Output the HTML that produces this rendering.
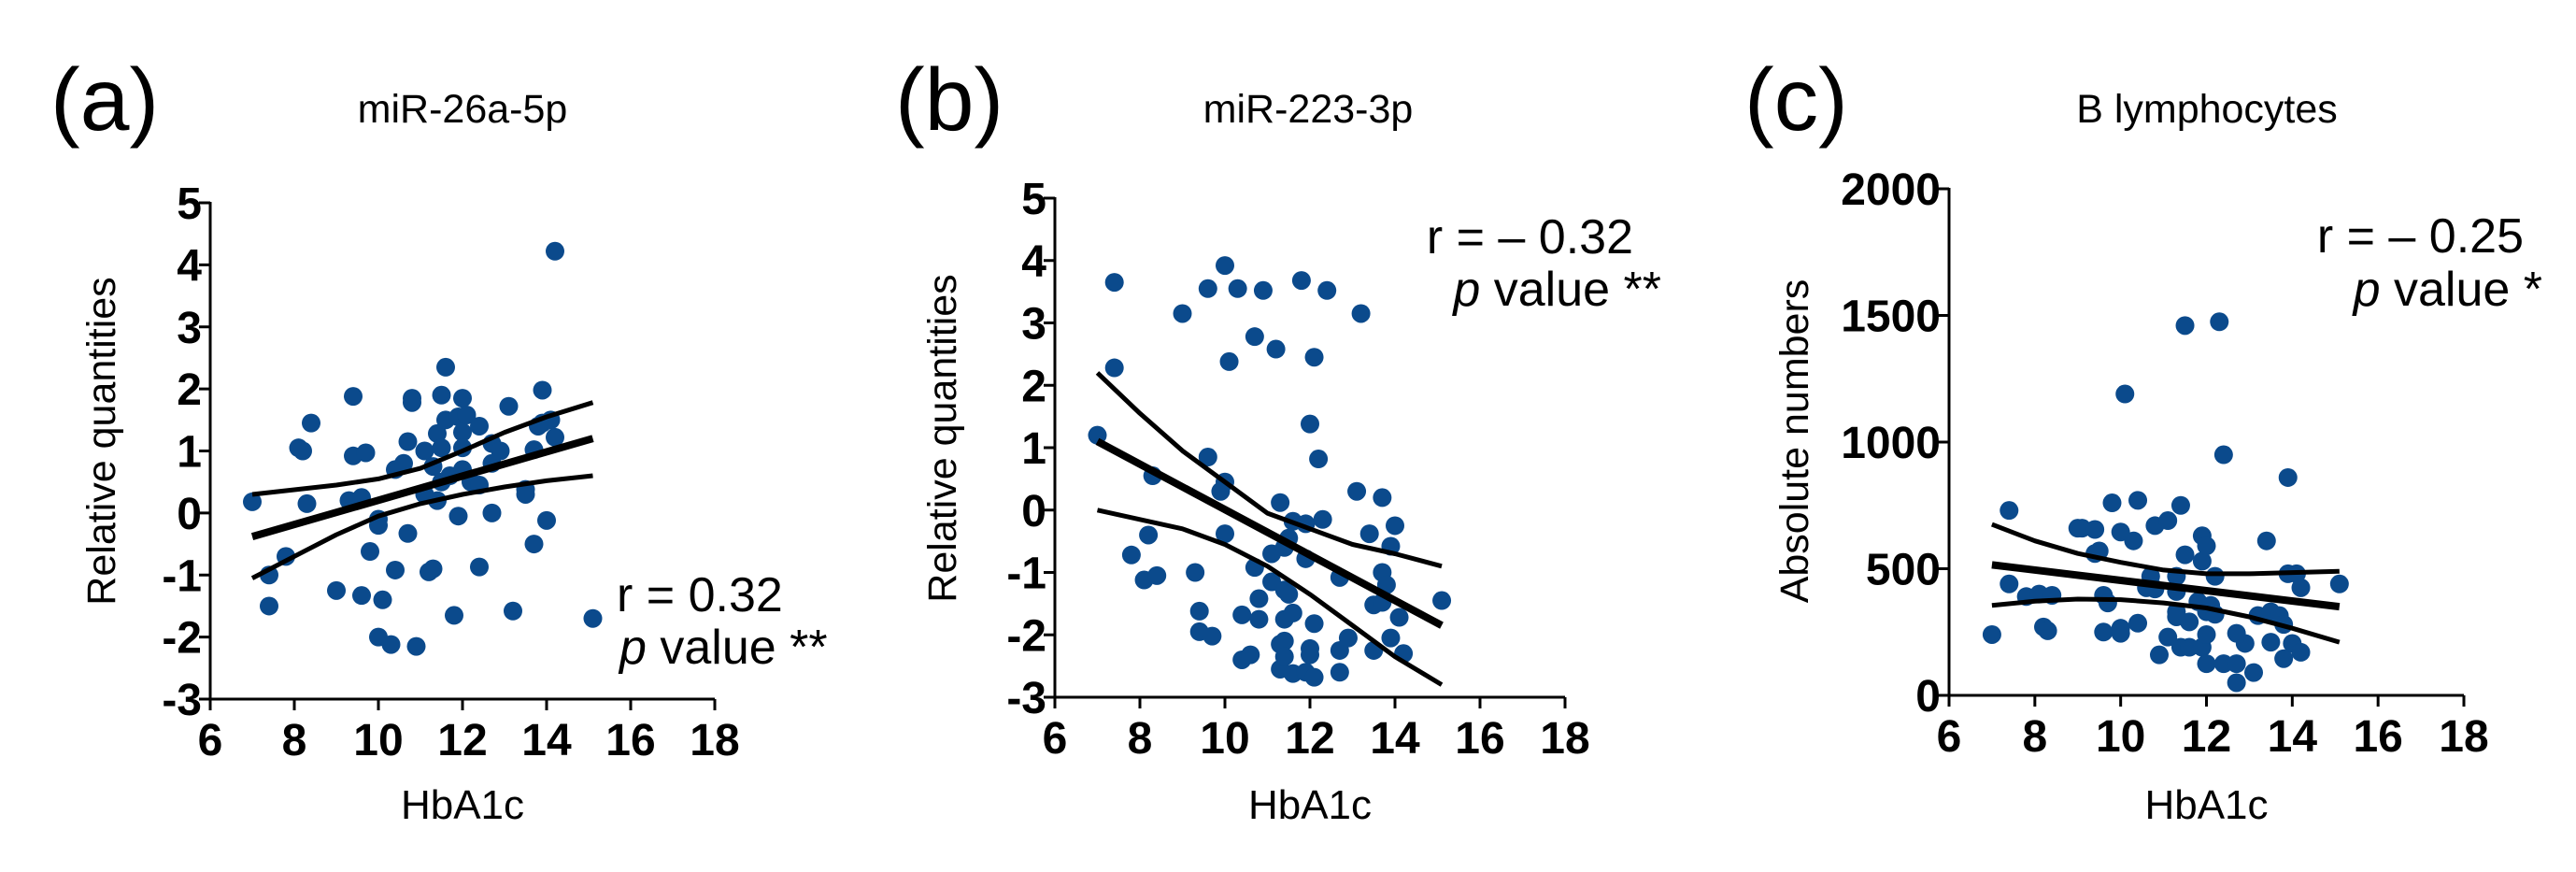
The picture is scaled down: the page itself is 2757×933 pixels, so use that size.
<!DOCTYPE html>
<html><head><meta charset="utf-8"><style>
body{margin:0;background:#fff;}
svg{display:block;font-family:"Liberation Sans",Arial,sans-serif;}
</style></head><body>
<svg id="fig" width="2757" height="933" viewBox="0 0 2757 933" xmlns="http://www.w3.org/2000/svg"></svg>
<script>
const NS="http://www.w3.org/2000/svg";
// ---- Panel a data ----
const aX=[7.0,7.4,7.4,7.8,8.1,8.2,8.3,8.4,9.0,9.3,9.4,9.4,9.6,9.6,9.7,9.8,10.0,10.0,10.0,10.1,10.3,10.4,10.4,10.6,10.7,10.7,10.8,10.8,10.9,11.1,11.1,11.2,11.3,11.3,11.4,11.4,11.5,11.5,11.5,11.6,11.6,11.7,11.8,11.9,11.9,12.0,12.0,12.0,12.0,12.1,12.2,12.4,12.4,12.4,12.7,12.7,12.7,12.9,13.1,13.2,13.5,13.5,13.7,13.7,13.8,13.9,13.9,14.0,14.1,14.2,14.2,15.1];
const aY=[0.18,-1.0,-1.5,-0.7,1.05,1.0,0.15,1.45,-1.25,0.2,1.88,0.92,0.25,-1.33,0.97,-0.62,-0.1,-0.2,-2.0,-1.4,-2.12,-0.92,0.7,0.8,1.15,-0.33,1.85,1.78,-2.15,1.0,0.3,-0.95,-0.9,0.75,1.28,0.2,1.9,1.05,0.5,2.35,1.5,0.6,-1.65,-0.05,1.55,1.85,1.3,1.05,0.7,1.58,0.5,1.4,0.45,-0.87,1.12,0.0,0.8,1.0,1.72,-1.58,0.38,0.3,1.02,-0.5,1.4,1.98,1.45,-0.12,1.5,1.22,4.22,-1.7];
const aFitX=[7,15.1];
const aFitY=[-0.38,1.2];
const aBandX=[7,9,10,11,12,13,14,15.1];
const aUpper=[0.3,0.45,0.55,0.72,1.0,1.3,1.55,1.78];
const aBandX2=[7,8,9,10,11,12,13,14,15.1];
const aLower=[-1.05,-0.7,-0.35,-0.05,0.15,0.3,0.42,0.52,0.6];
const aYTicks=[5,4,3,2,1,0,-1,-2,-3];
// ---- Panel b data ----
const bX=[7.0,7.4,7.4,7.8,8.1,8.2,8.3,8.4,9.0,9.3,9.4,9.4,9.6,9.6,9.7,9.9,10.0,10.0,10.0,10.1,10.3,10.4,10.4,10.6,10.7,10.7,10.8,10.8,10.9,11.1,11.1,11.2,11.3,11.3,11.3,11.4,11.4,11.4,11.4,11.4,11.5,11.5,11.6,11.6,11.6,11.8,11.9,11.9,11.9,12.0,12.0,12.0,12.1,12.1,12.1,12.2,12.3,12.4,12.7,12.7,12.7,12.9,13.1,13.2,13.4,13.5,13.5,13.7,13.7,13.7,13.8,13.9,13.9,14.0,14.1,14.2,15.1];
const bY=[1.2,3.65,2.28,-0.72,-1.12,-0.4,0.55,-1.05,3.15,-1.0,-1.62,-1.95,3.55,0.85,-2.02,0.3,3.92,0.45,-0.38,2.38,3.55,-1.68,-2.4,-2.32,2.78,-0.92,-1.42,-1.75,3.52,-1.15,-0.7,2.58,0.12,-2.55,-2.15,-0.6,-1.28,-1.75,-2.1,-2.35,-0.45,-1.35,-0.18,-2.62,-1.65,3.68,-0.22,-0.78,-2.6,1.38,-2.22,-2.32,2.45,-1.82,-2.68,0.82,-0.15,3.52,-1.08,-2.25,-2.6,-2.05,0.3,3.15,-0.38,-1.52,-2.25,0.2,-1.0,-1.48,-1.2,-0.58,-2.05,-0.25,-1.72,-2.3,-1.45];
const bFitX=[7,15.1];
const bFitY=[1.1,-1.85];
const bBandX=[7,8,9,10,11,12,13,14,15.1];
const bUpper=[2.2,1.55,0.95,0.45,-0.05,-0.3,-0.55,-0.7,-0.9];
const bLower=[0,-0.15,-0.3,-0.55,-0.9,-1.35,-1.85,-2.35,-2.8];
// ---- Panel c data ----
const cX=[7.0,7.4,7.4,7.8,8.1,8.2,8.3,8.4,9.0,9.1,9.4,9.4,9.5,9.6,9.6,9.7,9.8,10.0,10.0,10.0,10.1,10.3,10.4,10.4,10.6,10.7,10.8,10.8,10.9,11.1,11.1,11.3,11.3,11.3,11.3,11.4,11.4,11.5,11.5,11.6,11.6,11.8,11.9,11.9,11.9,12.0,12.0,12.0,12.0,12.1,12.2,12.2,12.3,12.4,12.4,12.7,12.7,12.7,12.9,13.1,13.2,13.4,13.5,13.5,13.7,13.8,13.8,13.9,13.9,14.0,14.1,14.2,14.2,15.1];
const cY=[240,730,440,390,400,270,255,395,660,660,655,560,570,250,395,365,760,645,265,245,1190,610,770,285,425,470,670,420,160,690,230,470,410,330,310,750,190,1460,555,190,290,370,630,530,190,590,330,240,125,355,320,470,1475,950,125,245,125,50,205,90,315,610,210,330,315,280,145,860,480,205,480,425,170,440];
const cFitX=[7,15.1];
const cFitY=[515,350];
const cBandX=[7,8,9,10,11,12,13,14,15.1];
const cUpper=[675,610,560,525,495,480,480,485,490];
const cLower=[355,372,380,378,365,345,310,265,210];
const cYTicks=[2000,1500,1000,500,0];
const xTicks=[6,8,10,12,14,16,18];

const svg=document.getElementById('fig');
function el(tag,attrs,parent,text){const e=document.createElementNS(NS,tag);for(const k in attrs)e.setAttribute(k,attrs[k]);if(text!==undefined)e.textContent=text;(parent||svg).appendChild(e);return e;}

function panel(o){
  const g=el('g',{});
  
  
  const sx=v=>o.x0+(v-6)/(18-6)*(o.x1-o.x0);
  const sy=v=>o.y0+(v-o.ymin)/(o.ymax-o.ymin)*(o.y1-o.y0);
  const ya=el('line',{x1:o.x0,y1:o.y1-1,x2:o.x0,y2:o.y0+1.5,stroke:'#000','stroke-width':3},g);
  
  
  const xa=el('line',{x1:o.x0-1.5,y1:o.y0,x2:o.x1,y2:o.y0,stroke:'#000','stroke-width':3},g);
  
  
  o.yticks.forEach(t=>{
    el('line',{x1:o.x0-12,x2:o.x0,y1:sy(t),y2:sy(t),stroke:'#000','stroke-width':3},g);
    const tx=el('text',{x:o.x0-9,y:sy(t)+17,'text-anchor':'end','font-size':48,'font-weight':'bold'},g,String(t));
    
    
  });
  xTicks.forEach(t=>{
    el('line',{x1:sx(t),x2:sx(t),y1:o.y0,y2:o.y0+12,stroke:'#000','stroke-width':3},g);
    const tx=el('text',{x:sx(t),y:o.y0+60,'text-anchor':'middle','font-size':48,'font-weight':'bold'},g,String(t));
    
    
  });
  o.px.forEach((v,i)=>{
    const c=el('circle',{cx:sx(v),cy:sy(o.py[i]),r:10,fill:'#0b4a8c'},g);
    
    
  });
  const path=(xs,ys)=>xs.map((v,i)=>(i?'L':'M')+sx(v).toFixed(1)+' '+sy(ys[i]).toFixed(1)).join(' ');
  const u=el('path',{d:path(o.ubx,o.up),fill:'none',stroke:'#000','stroke-width':5,'stroke-linejoin':'round'},g);
  
  
  const l=el('path',{d:path(o.lbx,o.lo),fill:'none',stroke:'#000','stroke-width':5,'stroke-linejoin':'round'},g);
  
  
  const f=el('path',{d:path(o.fx,o.fy),fill:'none',stroke:'#000','stroke-width':8},g);
  
  
  const pl=el('text',{x:o.lx,y:139,'font-size':95},g,o.letter);
  
  
  const ti=el('text',{x:o.tx,y:131,'text-anchor':'middle','font-size':43},g,o.title);
  
  
  const xt=el('text',{x:(o.x0+o.x1)/2,y:876,'text-anchor':'middle','font-size':44},g,'HbA1c');
  
  
  const yt=el('text',{x:0,y:0,'text-anchor':'middle','font-size':43,transform:`translate(${o.ylx},${o.yly}) rotate(-90)`},g,o.ylabel);
  
  
  const r=el('text',{x:o.ax,y:o.ay1,'text-anchor':o.anchor,'font-size':52},g,o.rtext);
  
  
  const p=el('text',{x:o.ax2,y:o.ay2,'text-anchor':o.anchor,'font-size':52},g);
  
  
  el('tspan',{'font-style':'italic'},p,'p');
  el('tspan',{},p,' value '+o.stars);
}
panel({name:'panel-a',x0:225,x1:765,y0:748,y1:217,ymin:-3,ymax:5,yticks:aYTicks,px:aX,py:aY,fx:aFitX,fy:aFitY,ubx:aBandX,up:aUpper,lbx:aBandX2,lo:aLower,letter:'(a)',lx:54,title:'miR-26a-5p',tx:495,ylabel:'Relative quantities',ylx:123,yly:472,rtext:'r = 0.32',ax:660,ay1:654,ax2:663,ay2:710,anchor:'start',stars:'**'});
panel({name:'panel-b',x0:1129,x1:1675,y0:746,y1:212,ymin:-3,ymax:5,yticks:aYTicks,px:bX,py:bY,fx:bFitX,fy:bFitY,ubx:bBandX,up:bUpper,lbx:bBandX,lo:bLower,letter:'(b)',lx:958,title:'miR-223-3p',tx:1400,ylabel:'Relative quantities',ylx:1023,yly:469,rtext:'r = – 0.32',ax:1748,ay1:271,ax2:1778,ay2:327,anchor:'end',stars:'**'});
panel({name:'panel-c',x0:2086,x1:2637,y0:744,y1:202,ymin:0,ymax:2000,yticks:cYTicks,px:cX,py:cY,fx:cFitX,fy:cFitY,ubx:cBandX,up:cUpper,lbx:cBandX,lo:cLower,letter:'(c)',lx:1867,title:'B lymphocytes',tx:2362,ylabel:'Absolute numbers',ylx:1935,yly:472,rtext:'r = – 0.25',ax:2701,ay1:270,ax2:2721,ay2:327,anchor:'end',stars:'*'})
</script>
</body></html>
